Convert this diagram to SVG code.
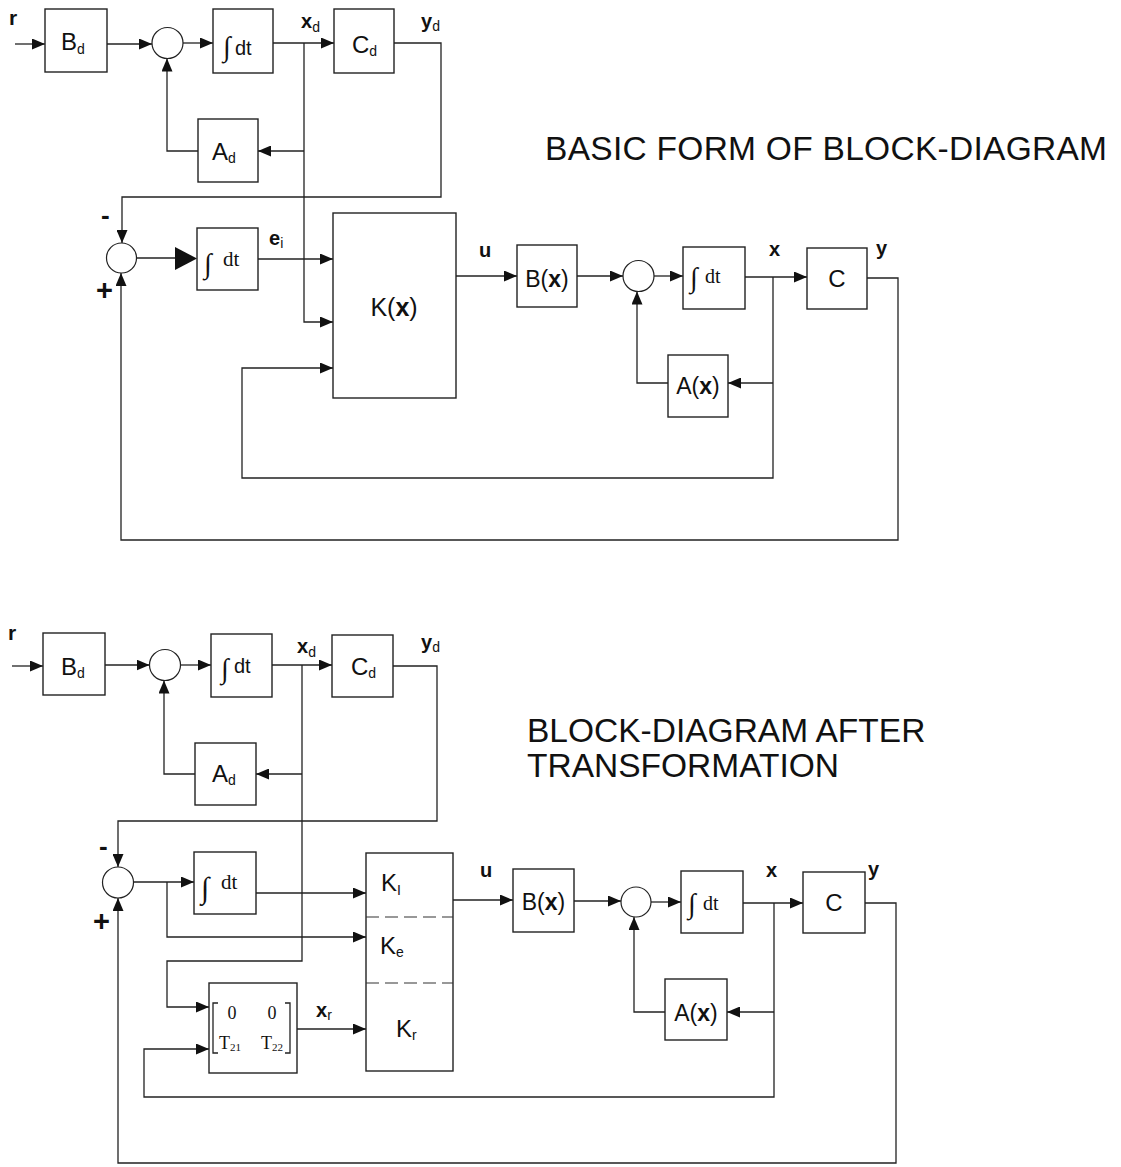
<svg xmlns="http://www.w3.org/2000/svg" width="1121" height="1167" viewBox="0 0 1121 1167">
<style>
.bx{fill:#fff;stroke:#222;stroke-width:1.4}
.cr{fill:#fff;stroke:#222;stroke-width:1.2}
.ln{fill:none;stroke:#222;stroke-width:1.3}
.ar{fill:none;stroke:#222;stroke-width:1.3;marker-end:url(#a)}
.dash{fill:none;stroke:#333;stroke-width:1.2;stroke-dasharray:13 6}
.s{font-family:"Liberation Sans",Arial,sans-serif;fill:#111}
.lb{font-family:"Liberation Sans",Arial,sans-serif;font-weight:bold;font-size:20px;fill:#111}
.bl{font-family:"Liberation Sans",Arial,sans-serif;font-size:24px;fill:#111}
.sub{font-size:14px}
.f{font-family:"Liberation Serif","Times New Roman",serif;fill:#111}
.t{font-family:"Liberation Sans",Arial,sans-serif;font-size:33.5px;fill:#111}
</style>
<defs>
<marker id="a" markerUnits="userSpaceOnUse" markerWidth="13" markerHeight="11" refX="13" refY="5.5" orient="auto">
<path d="M0,0 L13,5.5 L0,11 z" fill="#111"/>
</marker>
</defs>

<g id="connectors">
<!-- top diagram -->
<path class="ar" d="M15,44 H45"/>
<path class="ar" d="M107,44 H152"/>
<path class="ar" d="M183,43 H213"/>
<path class="ar" d="M273,43 H334"/>
<path class="ar" d="M394,43 H441 V197 H122 V243"/>
<path class="ar" d="M304,43 V322 H333"/>
<path class="ar" d="M304,151 H258"/>
<path class="ar" d="M198,151 H167 V58.5"/>
<path class="ln" d="M137,258 H176"/>
<polygon points="175,247 197,258.5 175,270" fill="#111"/>
<path class="ar" d="M258,259 H333"/>
<path class="ar" d="M456,276 H517"/>
<path class="ar" d="M577,276 H623"/>
<path class="ar" d="M654,276 H683"/>
<path class="ar" d="M745,277 H807"/>
<path class="ar" d="M867,278 H898 V540 H121 V273"/>
<path class="ar" d="M773,277 V478 H242 V368 H333"/>
<path class="ar" d="M773,383 H728"/>
<path class="ar" d="M668,383 H637 V291.5"/>
<!-- bottom diagram -->
<path class="ar" d="M12,666 H43"/>
<path class="ar" d="M105,665 H149.5"/>
<path class="ar" d="M180.5,665 H211"/>
<path class="ar" d="M272,665 H332"/>
<path class="ar" d="M393,666 H437 V821 H118 V867"/>
<path class="ar" d="M302,665 V961 H167 V1007 H209"/>
<path class="ar" d="M302,774 H256"/>
<path class="ar" d="M195,774 H164 V680.5"/>
<path class="ar" d="M133.5,882 H194"/>
<path class="ar" d="M167,882 V937 H366"/>
<path class="ar" d="M256,893 H366"/>
<path class="ar" d="M297,1029 H366"/>
<path class="ar" d="M774,903 V1097 H144 V1049 H209"/>
<path class="ar" d="M774,1012 H727"/>
<path class="ar" d="M665,1012 H634 V917"/>
<path class="ar" d="M453,900 H513"/>
<path class="ar" d="M574,901 H621"/>
<path class="ar" d="M651,902 H681"/>
<path class="ar" d="M743,903 H803"/>
<path class="ar" d="M865,903 H896 V1163 H118 V898"/>
</g>

<!-- top diagram nodes -->
<g id="r1"><text class="s" x="9" y="25" font-size="21" font-weight="bold">r</text></g>
<g id="Bd1"><rect class="bx" x="45" y="9" width="62" height="63"/><text class="bl" x="61" y="50">B<tspan class="sub" dy="4">d</tspan></text></g>
<g id="sum1"><circle class="cr" cx="167.5" cy="43" r="15.5"/></g>
<g id="int1"><rect class="bx" x="213" y="9" width="60" height="64"/><text class="f" x="223" y="56" font-size="28">∫</text><text class="s" x="235" y="55" font-size="20">dt</text></g>
<g id="xd1"><text class="lb" x="301" y="28" font-size="21">x<tspan class="sub" font-weight="normal" dy="4">d</tspan></text></g>
<g id="Cd1"><rect class="bx" x="334" y="9" width="60" height="64"/><text class="bl" x="352" y="53">C<tspan class="sub" dy="3">d</tspan></text></g>
<g id="yd1"><text class="lb" x="421" y="28">y<tspan class="sub" font-weight="normal" dy="3">d</tspan></text></g>
<g id="Ad1"><rect class="bx" x="198" y="119" width="60" height="63"/><text class="bl" x="212" y="160">A<tspan class="sub" dy="3">d</tspan></text></g>
<g id="title1"><text class="t" x="545" y="160" textLength="562">BASIC FORM OF BLOCK-DIAGRAM</text></g>
<g id="minus1"><text class="s" x="101" y="224" font-size="26" font-weight="bold">-</text></g>
<g id="plus1"><text class="s" x="96" y="300" font-size="29" font-weight="bold">+</text></g>
<g id="sum2"><circle class="cr" cx="121.5" cy="258" r="15"/></g>
<g id="int2"><rect class="bx" x="197" y="228" width="61" height="62"/><text class="f" x="204" y="273" font-size="28">∫</text><text class="f" x="223" y="266" font-size="21">dt</text></g>
<g id="ei"><text class="lb" x="269" y="245">e<tspan class="sub" font-weight="normal" font-size="11" dy="3">i</tspan></text></g>
<g id="Kx"><rect class="bx" x="333" y="213" width="123" height="185"/><text class="s" x="394" y="316" font-size="25" text-anchor="middle">K(<tspan font-weight="bold">x</tspan>)</text></g>
<g id="u1"><text class="lb" x="479" y="257">u</text></g>
<g id="Bx1"><rect class="bx" x="517" y="245" width="60" height="62"/><text class="s" x="547" y="287" font-size="23" text-anchor="middle">B(<tspan font-weight="bold">x</tspan>)</text></g>
<g id="sum3"><circle class="cr" cx="638.5" cy="276" r="15.5"/></g>
<g id="int3"><rect class="bx" x="683" y="247" width="62" height="62"/><text class="f" x="690" y="287" font-size="28">∫</text><text class="f" x="705" y="283" font-size="20">dt</text></g>
<g id="x1"><text class="lb" x="769" y="256">x</text></g>
<g id="C1"><rect class="bx" x="807" y="248" width="60" height="61"/><text class="bl" x="837" y="287" text-anchor="middle">C</text></g>
<g id="y1"><text class="lb" x="876" y="255">y</text></g>
<g id="Ax1"><rect class="bx" x="668" y="355" width="60" height="62"/><text class="s" x="698" y="394" font-size="23" text-anchor="middle">A(<tspan font-weight="bold">x</tspan>)</text></g>

<!-- bottom diagram nodes -->
<g id="r2"><text class="s" x="8" y="640" font-size="21" font-weight="bold">r</text></g>
<g id="Bd2"><rect class="bx" x="43" y="633" width="62" height="62"/><text class="bl" x="61" y="675">B<tspan class="sub" dy="3">d</tspan></text></g>
<g id="sum4"><circle class="cr" cx="165" cy="665" r="15.5"/></g>
<g id="int4"><rect class="bx" x="211" y="634" width="61" height="63"/><text class="f" x="221" y="678" font-size="28">∫</text><text class="s" x="234" y="673" font-size="20">dt</text></g>
<g id="xd2"><text class="lb" x="297" y="653" font-size="21">x<tspan class="sub" font-weight="normal" dy="4">d</tspan></text></g>
<g id="Cd2"><rect class="bx" x="332" y="635" width="61" height="62"/><text class="bl" x="351" y="675">C<tspan class="sub" dy="3">d</tspan></text></g>
<g id="yd2"><text class="lb" x="421" y="649">y<tspan class="sub" font-weight="normal" dy="3">d</tspan></text></g>
<g id="Ad2"><rect class="bx" x="195" y="743" width="61" height="62"/><text class="bl" x="212" y="782">A<tspan class="sub" dy="3">d</tspan></text></g>
<g id="title2"><text class="t" x="527" y="742">BLOCK-DIAGRAM AFTER</text><text class="t" x="527" y="777">TRANSFORMATION</text></g>
<g id="minus2"><text class="s" x="99" y="855" font-size="26" font-weight="bold">-</text></g>
<g id="plus2"><text class="s" x="93" y="931" font-size="29" font-weight="bold">+</text></g>
<g id="sum5"><circle class="cr" cx="118" cy="882.5" r="15.5"/></g>
<g id="int5"><rect class="bx" x="194" y="852" width="62" height="62"/><text class="f" x="201" y="898" font-size="30">∫</text><text class="f" x="221" y="889" font-size="21">dt</text></g>
<g id="K"><rect class="bx" x="366" y="853" width="87" height="218"/>
<path class="dash" d="M366,917 H453 M366,983 H453"/>
<text class="bl" x="381" y="891">K<tspan class="sub" dy="4">I</tspan></text>
<text class="bl" x="380" y="954">K<tspan class="sub" dy="3">e</tspan></text>
<text class="bl" x="396" y="1037">K<tspan class="sub" dy="3">r</tspan></text></g>
<g id="T"><rect class="bx" x="209" y="983" width="88" height="90"/>
<path class="ln" d="M218,1003 H213 V1053 H218 M285,1003 H290 V1053 H285"/>
<text class="f" x="232" y="1019" font-size="18" text-anchor="middle">0</text>
<text class="f" x="272" y="1019" font-size="18" text-anchor="middle">0</text>
<text class="f" x="219" y="1049" font-size="18">T<tspan font-size="11" dy="2">21</tspan></text>
<text class="f" x="261" y="1049" font-size="18">T<tspan font-size="11" dy="2">22</tspan></text></g>
<g id="xr"><text class="lb" x="316" y="1017">x<tspan class="sub" font-weight="normal" dy="3">r</tspan></text></g>
<g id="u2"><text class="lb" x="480" y="877">u</text></g>
<g id="Bx2"><rect class="bx" x="513" y="869" width="61" height="63"/><text class="s" x="543.5" y="910" font-size="23" text-anchor="middle">B(<tspan font-weight="bold">x</tspan>)</text></g>
<g id="sum6"><circle class="cr" cx="636" cy="902" r="15"/></g>
<g id="int6"><rect class="bx" x="681" y="871" width="62" height="62"/><text class="f" x="688" y="913" font-size="28">∫</text><text class="f" x="703" y="910" font-size="20">dt</text></g>
<g id="x2"><text class="lb" x="766" y="877">x</text></g>
<g id="C2"><rect class="bx" x="803" y="872" width="62" height="61"/><text class="bl" x="834" y="911" text-anchor="middle">C</text></g>
<g id="y2"><text class="lb" x="868" y="876">y</text></g>
<g id="Ax2"><rect class="bx" x="665" y="979" width="62" height="61"/><text class="s" x="696" y="1021" font-size="23" text-anchor="middle">A(<tspan font-weight="bold">x</tspan>)</text></g>
</svg>
